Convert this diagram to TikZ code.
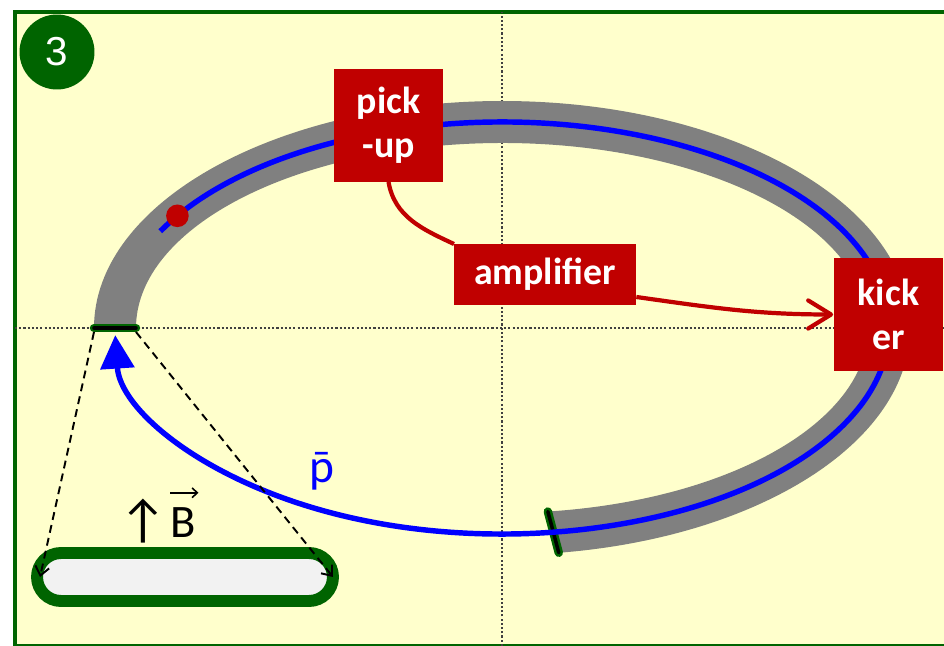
\documentclass[tikz,border=0pt]{standalone}
\usepackage{fontspec}
\setmainfont{Carlito}
\newfontfamily\badgefont{Liberation Sans}
\usetikzlibrary{positioning,calc,arrows.meta}
\definecolor{framegreen}{HTML}{006400}
\definecolor{paleyellow}{HTML}{FFFFCC}
\definecolor{ringgrey}{HTML}{808080}
\definecolor{beamblue}{HTML}{0000FF}
\definecolor{boxred}{HTML}{C00000}
\definecolor{pipegrey}{HTML}{F2F2F2}
% p with a bar on top (antiproton)
\newcommand\antip{{\ooalign{p\cr\hidewidth ¯\hidewidth\cr}}}

\begin{document}
\begin{tikzpicture}[
  x=0.02cm, y=0.02cm,
  redbox/.style={fill=boxred, text=white, inner sep=0pt, align=center,
    font=\fontsize{21.5}{25}\selectfont\bfseries},
  redline/.style={draw=boxred, line width=2.4pt},
  guide/.style={draw=black!75, line width=0.6pt, dash pattern=on 1.2pt off 1.2pt},
  secbar/.style={draw=framegreen, double=black, line width=1.4pt, double distance=2pt, line cap=round},
  beamline/.style={draw=beamblue, line width=3.1pt},
  lens/.style={-{Straight Barb[length=5pt,width=8pt]}, line width=1.1pt, dash pattern=on 4.5pt off 3pt},
]

% geometry of the ring: centre (502,318), orbit radii 387 x 206, pipe 42 wide
\coordinate (ctr) at (502,318);

% ============ frame and guides ============
\useasboundingbox (0,0) rectangle (944,646);
\clip (0,0) rectangle (944,646);
\draw[framegreen, line width=2.6pt, fill=paleyellow] (15,0) rectangle (990,634);
\draw[guide] (15,318) -- (944,318);
\draw[guide] (502,0) -- (502,634);

% ============ grey ring (open at the bottom) ============
\coordinate (secL) at ($(ctr)+(180:408 and 227)$);
\coordinate (secR) at ($(ctr)+(180:366 and 185)$);
\coordinate (endO) at ($(ctr)+(-82:408 and 227)$);
\coordinate (endI) at ($(ctr)+(-82.8:366 and 185)$);
\fill[ringgrey] (secL) arc[start angle=180, end angle=-82, x radius=408, y radius=227]
  -- (endI) arc[start angle=-82.8, end angle=180, x radius=366, y radius=185] -- cycle;
\draw[secbar] (secL) -- (secR);
\draw[secbar] (endO) -- (endI);

% ============ antiproton orbit ============
\coordinate (orbit0) at ($(ctr)+(152:387 and 206)$);
\draw[beamline, -{Triangle[length=19pt,width=19pt]}] (orbit0)
  arc[start angle=152, end angle=-178, x radius=387, y radius=206];
\fill[boxred] ($(ctr)+(147:387 and 206)$) circle[radius=11.3];
\node[text=beamblue, font=\fontsize{27}{30}\selectfont, anchor=base] (pbar) at (322,163) {\antip};

% ============ stochastic cooling chain ============
\draw[redline] (388.5,464) to[out=-80, in=155] (454,402);
\node[redbox, minimum width=2.18cm, minimum height=2.26cm] (pickup) at (388.5,520.5) {pick\\-up};
\node[redbox, minimum width=3.64cm, minimum height=1.22cm] (amp) at (545,371.5) {amplifier};
\node[redbox, minimum width=2.2cm, minimum height=2.26cm] (kicker) at (888.5,331.5) {kick\\er};
\draw[redline, -{Straight Barb[round,length=13pt,width=16pt]}]
  ($(amp.east)+(0,-22.5)$) to[out=-8, in=180] (kicker.west);

% ============ badge ============
\node[circle, fill=framegreen, minimum size=1.5cm, inner sep=0pt, text=white,
  font=\badgefont\fontsize{23}{23}\selectfont] (badge) at (57,594) {3};

% ============ cross section of the pipe ============
\node[draw=framegreen, fill=pipegrey, line width=6.8pt, rounded corners=0.48cm,
  minimum width=5.92cm, minimum height=0.96cm, outer sep=0pt] (pipe) at (185,69) {};
\draw[lens] ($(secL)+(0,-4)$) -- ($(pipe.west)+(3,0)$);
\draw[lens] ($(secR)+(0,-4)$) -- (pipe.east);
\node[font=\fontsize{30}{30}\selectfont, anchor=base] (field) at (143,108) {↑};
\node[font=\fontsize{26.5}{26.5}\selectfont, anchor=base, inner sep=0pt] (bvec) at (183.5,108) {B};
\draw[-{Straight Barb[length=3pt,width=5.5pt]}, line width=0.9pt]
  ($(bvec.north west)+(0,15)$) -- ($(bvec.north east)+(2,15)$);

\end{tikzpicture}
\end{document}
